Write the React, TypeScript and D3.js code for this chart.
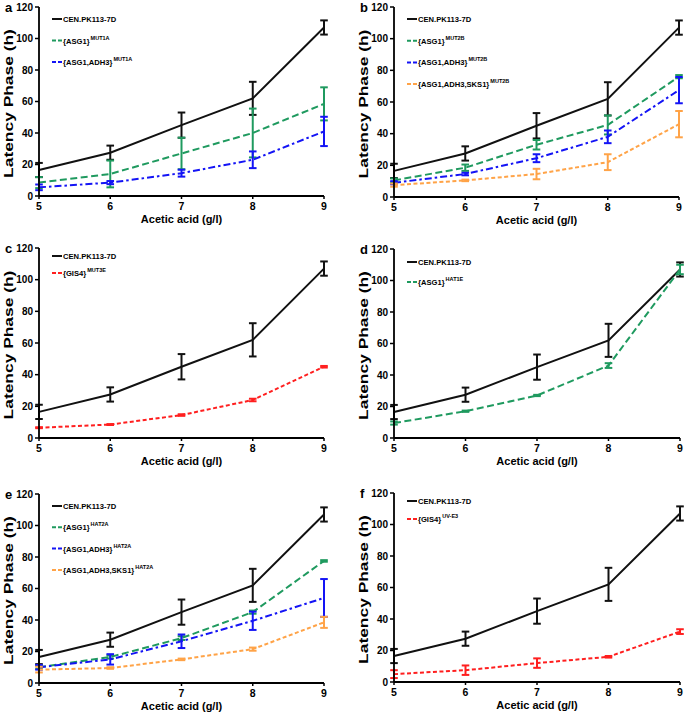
import React from "react";
import * as d3 from "d3";

const concentrations = [5, 6, 7, 8, 9];
const yTicks = [0, 20, 40, 60, 80, 100, 120];

const controlMean = [16.5, 27.5, 45, 62, 107];
const controlErr = [4.5, 4.5, 8, 10.5, 4.5];

const aAsg1Mean = [8.5, 14, 27, 40, 58.5];
const aAsg1Err = [3.5, 8.5, 10, 15.5, 10.5];
const aAdh3Mean = [5.5, 8.5, 14.5, 23, 41];
const aAdh3Err = [1.8, 1, 2.2, 5.3, 9.3];

const bAsg1Mean = [10.5, 18.5, 33, 45.5, 76];
const bAsg1Err = [1.2, 2, 3, 6, 1];
const bAdh3Mean = [9, 14.5, 24.5, 38, 67.5];
const bAdh3Err = [1, 0.8, 2.5, 4, 8.3];
const bSks1Mean = [7.5, 10.5, 14.5, 22, 46];
const bSks1Err = [1, 0.5, 3.3, 5, 8.3];

const cGis4Mean = [6.5, 8.5, 14.5, 24, 45];
const cGis4Err = [0.3, 0.3, 0.5, 0.8, 0.5];

const dAsg1Mean = [9.5, 17, 27, 46, 107];
const dAsg1Err = [1, 0.4, 0.4, 1.5, 3];

const eAsg1Mean = [10, 16.5, 28.5, 45, 77.5];
const eAsg1Err = [1, 1, 1.2, 1, 0.5];
const eAdh3Mean = [10, 15, 26.5, 39.5, 54];
const eAdh3Err = [1.5, 3.3, 4.3, 5.8, 12];
const eSks1Mean = [8.5, 9.5, 15, 21.5, 38.5];
const eSks1Err = [1.8, 0.5, 0.5, 1, 3.5];

const fGis4Mean = [5, 7.5, 12, 16, 32];
const fGis4Err = [2.5, 3, 3, 0.5, 1.5];

const BLACK = "#111111";
const GREEN = "#1f9a5f";
const BLUE = "#1414f5";
const ORANGE = "#ffa347";
const RED = "#ff1f1f";

const DASH_GREEN = "7,3.5";
const DASH_BLUE = "7,3,2.5,3";
const DASH_ORANGE = "4,2.5";
const DASH_RED = "4,2.5";

type Series = { base: string; sup: string; mean: number[]; err: number[]; color: string; dash: string | null };

const control = (): Series => ({ base: "CEN.PK113-7D", sup: "", mean: controlMean, err: controlErr, color: BLACK, dash: null });

type PanelDef = {
  letter: string;
  x0: number; x1: number; yTop: number; yBot: number;
  legendY: number; legendStep: number;
  series: Series[];
};

const panels: PanelDef[] = [
  { letter: "a", x0: 39, x1: 324, yTop: 7, yBot: 196, legendY: 19, legendStep: 21.5, series: [control(),
    { base: "{ASG1}", sup: "MUT1A", mean: aAsg1Mean, err: aAsg1Err, color: GREEN, dash: DASH_GREEN },
    { base: "{ASG1,ADH3}", sup: "MUT1A", mean: aAdh3Mean, err: aAdh3Err, color: BLUE, dash: DASH_BLUE }] },
  { letter: "b", x0: 394, x1: 679, yTop: 7, yBot: 197, legendY: 19, legendStep: 21.7, series: [control(),
    { base: "{ASG1}", sup: "MUT2B", mean: bAsg1Mean, err: bAsg1Err, color: GREEN, dash: DASH_GREEN },
    { base: "{ASG1,ADH3}", sup: "MUT2B", mean: bAdh3Mean, err: bAdh3Err, color: BLUE, dash: DASH_BLUE },
    { base: "{ASG1,ADH3,SKS1}", sup: "MUT2B", mean: bSks1Mean, err: bSks1Err, color: ORANGE, dash: DASH_ORANGE }] },
  { letter: "c", x0: 39, x1: 324, yTop: 248, yBot: 438, legendY: 256, legendStep: 17, series: [control(),
    { base: "{GIS4}", sup: "MUT3E", mean: cGis4Mean, err: cGis4Err, color: RED, dash: DASH_RED }] },
  { letter: "d", x0: 394, x1: 680, yTop: 249, yBot: 438, legendY: 262, legendStep: 20, series: [control(),
    { base: "{ASG1}", sup: "HAT1E", mean: dAsg1Mean, err: dAsg1Err, color: GREEN, dash: DASH_GREEN }] },
  { letter: "e", x0: 39, x1: 324, yTop: 494, yBot: 683, legendY: 506, legendStep: 21.3, series: [control(),
    { base: "{ASG1}", sup: "HAT2A", mean: eAsg1Mean, err: eAsg1Err, color: GREEN, dash: DASH_GREEN },
    { base: "{ASG1,ADH3}", sup: "HAT2A", mean: eAdh3Mean, err: eAdh3Err, color: BLUE, dash: DASH_BLUE },
    { base: "{ASG1,ADH3,SKS1}", sup: "HAT2A", mean: eSks1Mean, err: eSks1Err, color: ORANGE, dash: DASH_ORANGE }] },
  { letter: "f", x0: 394, x1: 680, yTop: 493, yBot: 682, legendY: 501, legendStep: 18, series: [control(),
    { base: "{GIS4}", sup: "UV-E3", mean: fGis4Mean, err: fGis4Err, color: RED, dash: DASH_RED }] },
];

const FONT = "'Liberation Sans', Arial, sans-serif";

function Panel({ p }: { p: PanelDef }) {
  const x = d3.scaleLinear().domain([5, 9]).range([p.x0, p.x1]);
  const y = d3.scaleLinear().domain([0, 120]).range([p.yBot, p.yTop]);
  const line = d3.line<number>().x((_, i) => x(concentrations[i])).y((v) => y(v));
  const cap = 3.8;
  const midY = (p.yTop + p.yBot) / 2;
  return (
    <g>
      <text x={p.x0 - 34} y={p.yTop + 5} fontFamily={FONT} fontWeight="bold" fontSize={13}>{p.letter}</text>
      {p.series.map((s, si) => (
        <g key={si}>
          <path d={line(s.mean) || ""} fill="none" stroke={s.color} strokeWidth={2} strokeDasharray={s.dash || undefined} />
          {s.mean.map((m, i) => {
            const cx = x(concentrations[i]);
            const lo = y(m - s.err[i]);
            const hi = y(m + s.err[i]);
            return (
              <g key={i} stroke={s.color} strokeWidth={2}>
                <line x1={cx} x2={cx} y1={lo} y2={hi} />
                <line x1={cx - cap} x2={cx + cap} y1={lo} y2={lo} />
                <line x1={cx - cap} x2={cx + cap} y1={hi} y2={hi} />
              </g>
            );
          })}
        </g>
      ))}
      <line x1={p.x0} x2={p.x0} y1={p.yTop} y2={p.yBot} stroke="#000" strokeWidth={1.8} />
      <line x1={p.x0} x2={p.x1} y1={p.yBot} y2={p.yBot} stroke="#000" strokeWidth={1.8} />
      {yTicks.map((t) => (
        <g key={t}>
          <line x1={p.x0 - 4} x2={p.x0} y1={y(t)} y2={y(t)} stroke="#000" strokeWidth={1.5} />
          <text x={p.x0 - 6} y={y(t) + 3.8} textAnchor="end" fontFamily={FONT} fontWeight="bold" fontSize={10}>{t}</text>
        </g>
      ))}
      {concentrations.map((c) => (
        <g key={c}>
          <line x1={x(c)} x2={x(c)} y1={p.yBot} y2={p.yBot + 3} stroke="#000" strokeWidth={1.5} />
          <text x={x(c)} y={p.yBot + 14} textAnchor="middle" fontFamily={FONT} fontWeight="bold" fontSize={10.5}>{c}</text>
        </g>
      ))}
      <text x={(p.x0 + p.x1) / 2} y={p.yBot + 27} textAnchor="middle" fontFamily={FONT} fontWeight="bold" fontSize={11}>Acetic acid (g/l)</text>
      <text transform={`translate(${p.x0 - 26},${midY + 2}) rotate(-90) scale(1.45,1)`} textAnchor="middle" fontFamily={FONT} fontWeight="bold" fontSize={12}>Latency Phase (h)</text>
      {p.series.map((s, si) => {
        const ly = p.legendY + si * p.legendStep;
        return (
          <g key={si}>
            <line x1={p.x0 + 13} x2={p.x0 + 23} y1={ly} y2={ly} stroke={s.color} strokeWidth={2} strokeDasharray={s.dash ? "4,2" : undefined} />
            <text x={p.x0 + 24} y={ly + 3} fontFamily={FONT} fontWeight="bold" fontSize={7.6}>
              {s.base}
              {s.sup && <tspan dy={-4} dx={1} fontSize={5.5}>{s.sup}</tspan>}
            </text>
          </g>
        );
      })}
    </g>
  );
}

export default function App() {
  return (
    <svg width={685} height={715} style={{ position: "absolute", left: 0, top: 0, background: "#fff" }}>
      <rect width={685} height={715} fill="#fff" />
      {panels.map((p) => <Panel key={p.letter} p={p} />)}
    </svg>
  );
}
